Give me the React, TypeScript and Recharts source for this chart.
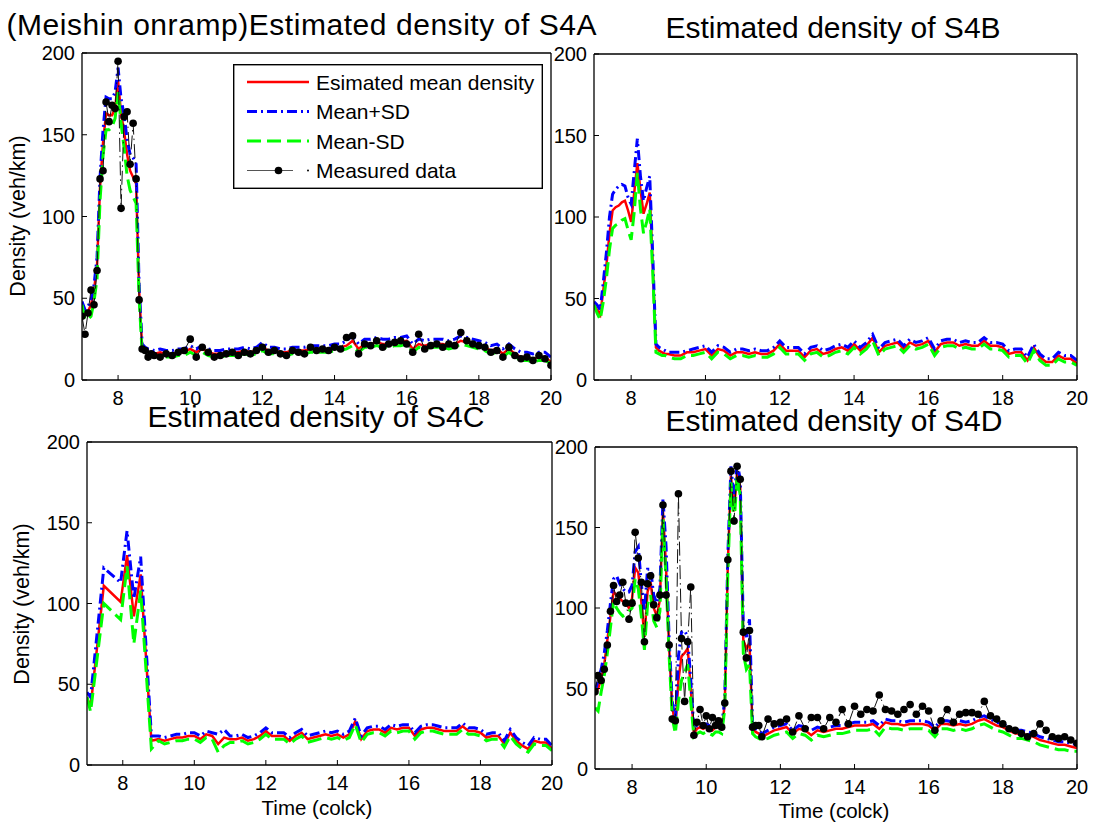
import { Legend, Line, LineChart, XAxis, YAxis } from 'recharts'

const FONT = '"Liberation Sans", Arial, sans-serif'

const xTicks = [8, 10, 12, 14, 16, 18, 20]
const yTicks = [0, 50, 100, 150, 200]

// sampling times in hours (5 min in the morning peak, 10 min afterwards)
const peakTimes = [7, 7.083, 7.167, 7.25, 7.333, 7.417, 7.5, 7.583, 7.667, 7.75, 7.833, 7.917, 8, 8.083, 8.167, 8.25, 8.333, 8.417, 8.5, 8.583, 8.667, 8.75, 8.833, 8.917, 9]
const tailTimes = [
  9.167, 9.333, 9.5, 9.667, 9.833, 10, 10.167, 10.333, 10.5, 10.667, 10.833, 11, 11.167, 11.333, 11.5, 11.667, 11.833,
  12, 12.167, 12.333, 12.5, 12.667, 12.833, 13, 13.167, 13.333, 13.5, 13.667, 13.833, 14, 14.167, 14.333, 14.5, 14.667, 14.833,
  15, 15.167, 15.333, 15.5, 15.667, 15.833, 16, 16.167, 16.333, 16.5, 16.667, 16.833, 17, 17.167, 17.333, 17.5, 17.667, 17.833,
  18, 18.167, 18.333, 18.5, 18.667, 18.833, 19, 19.167, 19.333, 19.5, 19.667, 19.833, 20,
]
const peakTimesC = [7, 7.1, 7.47, 7.94, 8.12, 8.31, 8.5, 8.8, 9]
const peakTimesD = [
  7, 7.083, 7.167, 7.25, 7.333, 7.417, 7.5, 7.583, 7.667, 7.75, 7.833, 7.917, 8, 8.083, 8.167, 8.25, 8.333, 8.417, 8.5, 8.583,
  8.667, 8.75, 8.833, 8.917, 9, 9.083, 9.167, 9.25, 9.333, 9.417, 9.5, 9.583, 9.667, 9.75, 9.833, 9.917, 10, 10.083, 10.167,
  10.25, 10.333, 10.417, 10.5, 10.583, 10.667, 10.75, 10.833, 10.917, 11, 11.083, 11.167, 11.25, 11.333, 11.417, 11.5,
]

// S4A
const meanA = [
  45, 40, 42, 46, 55, 70, 118, 145, 163, 162, 162, 166, 183, 163, 152, 138, 128, 124, 120, 55, 20, 18, 17, 17, 16,
  17, 16, 16, 17, 17, 19, 17, 19, 17, 16, 16, 17, 17, 17, 18, 17, 18, 20, 18, 18, 17, 17, 18, 18, 18, 19, 19, 19, 19, 20,
  20, 21, 24, 19, 22, 22, 23, 22, 22, 23, 23, 24, 19, 22, 21, 22, 22, 22, 21, 22, 24, 23, 22, 21, 20, 18, 19, 16, 19, 16,
  14, 14, 13, 14, 14, 11,
]
const upperA = [
  48, 43, 45, 49, 58, 75, 124, 153, 173, 172, 172, 176, 191, 172, 162, 147, 138, 136, 132, 58, 22, 20, 19, 19, 18,
  19, 18, 18, 19, 19, 21, 19, 21, 19, 18, 18, 19, 19, 19, 20, 19, 20, 23, 20, 20, 19, 19, 20, 20, 20, 21, 21, 21, 21, 22,
  22, 24, 27, 22, 25, 25, 26, 25, 25, 26, 26, 27, 22, 25, 24, 25, 25, 25, 24, 25, 27, 26, 25, 24, 23, 21, 22, 19, 22, 19,
  17, 17, 16, 17, 17, 14,
]
const lowerA = [
  46, 37, 37, 39, 48, 62, 110, 137, 153, 153, 155, 160, 176, 157, 142, 125, 116, 112, 108, 50, 17, 16, 15, 15, 14,
  15, 14, 14, 15, 15, 17, 15, 17, 15, 14, 14, 15, 15, 15, 16, 15, 16, 18, 16, 16, 15, 15, 16, 16, 16, 17, 17, 17, 17, 18,
  18, 19, 21, 17, 20, 20, 21, 20, 20, 21, 21, 22, 17, 20, 19, 20, 20, 20, 19, 20, 22, 21, 20, 19, 18, 16, 17, 14, 17, 14,
  12, 12, 11, 12, 12, 10,
]
const measuredA = [
  39, 28, 41, 55, 46, 67, 123, 128, 170, 158, 168, 166, 195, 105, 161, 164, 132, 157, 123, 49, 19, 18, 14, 16, 15,
  14, 16, 15, 17, 18, 25, 14, 20, 17, 14, 15, 16, 17, 15, 17, 16, 18, 20, 17, 18, 16, 15, 18, 17, 16, 20, 18, 19, 18, 20,
  19, 26, 27, 16, 22, 21, 24, 20, 22, 23, 24, 22, 17, 28, 19, 21, 22, 20, 22, 21, 29, 24, 22, 21, 20, 17, 18, 14, 20, 15,
  13, 14, 12, 15, 13, 9,
]

// S4B
const meanB = [
  46, 43, 40, 55, 70, 90, 104, 106, 107, 109, 110, 104, 97, 115, 133, 117, 102, 108, 115, 70, 20, 18, 17, 16, 16,
  15, 15, 17, 17, 18, 19, 15, 19, 18, 15, 17, 17, 16, 17, 16, 16, 18, 22, 18, 18, 18, 14, 18, 19, 16, 17, 19, 20, 18, 22,
  18, 21, 26, 17, 21, 22, 23, 19, 23, 21, 22, 24, 17, 22, 23, 23, 21, 22, 21, 21, 24, 21, 21, 20, 16, 17, 17, 12, 20, 14,
  11, 11, 15, 13, 13, 10,
]
const upperB = [
  48, 46, 43, 60, 78, 100, 114, 117, 119, 120, 119, 112, 108, 128, 148, 125, 110, 118, 125, 75, 22, 20, 19, 18, 17,
  17, 17, 18, 19, 20, 21, 17, 21, 20, 17, 19, 19, 18, 19, 18, 18, 20, 24, 20, 20, 20, 16, 20, 21, 18, 19, 21, 22, 20, 24,
  20, 23, 28, 19, 23, 24, 25, 21, 25, 23, 24, 26, 19, 24, 25, 25, 23, 24, 23, 23, 26, 23, 23, 22, 18, 19, 19, 14, 22, 16,
  13, 13, 17, 15, 15, 12,
]
const lowerB = [
  46, 41, 37, 48, 62, 80, 93, 95, 96, 98, 99, 92, 86, 103, 127, 105, 90, 97, 105, 65, 17, 16, 15, 15, 14,
  13, 13, 15, 15, 16, 17, 13, 17, 16, 13, 15, 15, 14, 15, 14, 14, 16, 20, 16, 16, 16, 12, 16, 17, 14, 15, 17, 18, 16, 20,
  16, 19, 24, 15, 19, 20, 21, 17, 21, 19, 20, 22, 15, 20, 21, 21, 19, 20, 19, 19, 22, 19, 19, 18, 14, 15, 15, 10, 18, 12,
  9, 9, 13, 11, 11, 9,
]

// S4C
const meanC = [
  42, 36, 111, 101, 130, 92, 118, 15, 16,
  15, 16, 17, 17, 18, 18, 16, 19, 18, 13, 17, 16, 16, 17, 15, 16, 18, 21, 18, 18, 18, 15, 18, 20, 16, 17, 18, 19, 18, 19,
  17, 19, 27, 16, 21, 22, 22, 20, 23, 22, 23, 23, 18, 22, 23, 23, 22, 21, 21, 21, 24, 21, 21, 20, 17, 18, 18, 13, 20, 15,
  12, 10, 15, 14, 14, 10,
]
const upperC = [
  45, 42, 122, 113, 145, 103, 129, 18, 18,
  17, 18, 19, 19, 20, 20, 18, 21, 20, 19, 22, 18, 18, 19, 17, 18, 20, 23, 20, 20, 20, 17, 20, 22, 18, 19, 20, 21, 20, 21,
  19, 21, 29, 18, 23, 24, 24, 22, 25, 24, 25, 25, 20, 24, 25, 25, 24, 23, 23, 23, 26, 23, 23, 22, 19, 20, 20, 15, 22, 17,
  14, 12, 17, 16, 16, 12,
]
const lowerC = [
  42, 33, 100, 90, 123, 75, 108, 10, 15,
  13, 14, 15, 15, 16, 16, 14, 17, 16, 8, 12, 14, 14, 15, 13, 14, 16, 19, 16, 16, 16, 13, 16, 18, 14, 15, 16, 17, 16, 17,
  15, 17, 25, 14, 19, 20, 20, 18, 21, 20, 21, 21, 16, 20, 21, 21, 20, 19, 19, 19, 22, 19, 19, 18, 15, 16, 16, 11, 18, 13,
  10, 8, 13, 12, 12, 9,
]

// S4D
const meanD = [
  46, 50, 56, 65, 80, 95, 110, 108, 106, 104, 103, 100, 106, 125, 122, 104, 82, 110, 116, 100, 95, 105, 160, 125, 75, 40, 25,
  55, 70, 72, 75, 50, 22, 25, 26, 25, 26, 25, 24, 26, 26, 25, 40, 128, 182, 160, 185, 175, 80, 75, 78, 25, 23, 22, 20,
  22, 24, 25, 26, 22, 25, 24, 21, 24, 23, 24, 25, 25, 26, 27, 27, 27, 28, 25, 29, 28, 28, 27, 28, 28, 28, 27, 24, 28, 28,
  27, 28, 27, 28, 30, 31, 29, 27, 26, 24, 22, 22, 21, 20, 18, 17, 16, 15, 15, 14, 13,
]
const upperD = [
  48, 55, 62, 72, 86, 103, 118, 120, 115, 112, 110, 110, 114, 135, 138, 115, 98, 124, 124, 108, 103, 112, 168, 138, 80, 42, 30,
  70, 85, 86, 82, 55, 25, 27, 28, 27, 28, 27, 26, 28, 28, 27, 43, 133, 188, 168, 190, 180, 88, 82, 93, 28, 25, 24, 22,
  24, 26, 27, 28, 24, 27, 26, 24, 26, 25, 26, 27, 27, 28, 29, 29, 29, 30, 27, 31, 30, 30, 29, 30, 30, 30, 29, 26, 30, 30,
  29, 30, 29, 30, 32, 33, 31, 29, 28, 26, 24, 24, 23, 22, 20, 19, 18, 17, 17, 16, 15,
]
const lowerD = [
  38, 36, 48, 58, 72, 88, 104, 100, 97, 95, 96, 98, 100, 118, 112, 95, 74, 102, 108, 92, 88, 98, 155, 118, 70, 32, 22,
  42, 55, 60, 65, 42, 20, 22, 23, 22, 23, 22, 21, 23, 23, 22, 37, 122, 178, 152, 182, 170, 72, 62, 65, 22, 20, 19, 18,
  19, 21, 22, 23, 19, 22, 21, 18, 21, 20, 21, 22, 22, 23, 24, 24, 24, 25, 21, 26, 25, 25, 24, 25, 25, 25, 24, 20, 25, 25,
  24, 25, 24, 25, 27, 28, 26, 24, 23, 21, 19, 19, 18, 17, 15, 14, 13, 12, 12, 11, 11,
]
const measuredD = [
  48, 58, 55, 62, 77, 98, 114, 104, 108, 116, 103, 93, 103, 147, 131, 116, 79, 115, 120, 102, 94, 108, 164, 108, 77, 31, 30,
  171, 81, 42, 79, 113, 21, 29, 37, 27, 33, 25, 32, 27, 30, 26, 41, 130, 185, 154, 188, 180, 85, 69, 86, 26, 27, 27, 20,
  31, 28, 29, 31, 23, 33, 25, 32, 32, 25, 32, 29, 37, 28, 39, 34, 37, 36, 46, 37, 36, 34, 37, 40, 34, 39, 36, 24, 30, 37,
  29, 34, 35, 35, 34, 42, 33, 31, 28, 25, 24, 22, 20, 22, 28, 24, 20, 19, 20, 18, 16,
]

type Row = { t: number; mean: number; upper: number; lower: number; measured?: number }

const toRows = (times: number[], mean: number[], upper: number[], lower: number[], measured?: number[]): Row[] =>
  times.map((t, i) => ({ t, mean: mean[i], upper: upper[i], lower: lower[i], measured: measured ? measured[i] : undefined }))

const rowsA = toRows([...peakTimes, ...tailTimes], meanA, upperA, lowerA, measuredA)
const rowsB = toRows([...peakTimes, ...tailTimes], meanB, upperB, lowerB)
const rowsC = toRows([...peakTimesC, ...tailTimes], meanC, upperC, lowerC)
const rowsD = toRows([...peakTimesD, ...tailTimes.slice(15)], meanD, upperD, lowerD, measuredD)

const legendItems = [
  { label: 'Esimated mean density', color: '#ff0000', dash: undefined, width: 2.5 },
  { label: 'Mean+SD', color: '#0000ff', dash: '10 4 2 4', width: 3 },
  { label: 'Mean-SD', color: '#00ff00', dash: '14 6', width: 3 },
  { label: 'Measured data', color: '#555', dash: undefined, width: 1 },
]

const LegendBox = () => (
  <svg width={310} height={125} style={{ display: 'block', background: '#fff' }}>
    <rect x={0.7} y={0.7} width={308.6} height={123.6} fill="#fff" stroke="#000" strokeWidth={1.4} />
    {legendItems.map((it, i) => {
      const y = 18 + i * 29.5
      return (
        <g key={it.label}>
          {i === 3 ? (
            <>
              <line x1={14} x2={60} y1={y} y2={y} stroke={it.color} strokeWidth={1} />
              <circle cx={45.5} cy={y} r={3.8} fill="#000" />
              <circle cx={75} cy={y} r={1} fill="#000" />
            </>
          ) : (
            <line x1={14} x2={76} y1={y} y2={y} stroke={it.color} strokeWidth={it.width} strokeDasharray={it.dash} />
          )}
          <text x={83} y={y + 7.5} fontSize={21} fontFamily={FONT} fill="#000">
            {it.label}
          </text>
        </g>
      )
    })}
  </svg>
)

type PanelProps = {
  data: Row[]
  left: number
  top: number
  height: number
  yWidth: number
  margin: { top: number; right: number; bottom: number; left: number }
  measured?: boolean
  legend?: boolean
}

const tickStyle = { fill: '#000', fontSize: 20, fontFamily: FONT }
const axisLine = { stroke: '#000', strokeWidth: 1.3 }

// the top and right axes only draw the box edges and the inward ticks (MATLAB style)
const DensityPanel = ({ data, left, top, height, yWidth, margin, measured, legend }: PanelProps) => (
  <div style={{ position: 'absolute', left, top }}>
    <LineChart width={570} height={height} data={data} margin={margin}>
      <XAxis dataKey="t" type="number" domain={[7, 20]} ticks={xTicks} interval={0} allowDataOverflow height={30}
        tickSize={-5} tickMargin={16} tick={tickStyle} axisLine={axisLine} tickLine={{ stroke: '#000' }} />
      <XAxis xAxisId="top" orientation="top" dataKey="t" type="number" domain={[7, 20]} ticks={xTicks} interval={0}
        allowDataOverflow height={1} tickSize={-5} tick={false} axisLine={axisLine} tickLine={{ stroke: '#000' }} />
      <YAxis type="number" domain={[0, 200]} ticks={yTicks} interval={0} allowDataOverflow width={yWidth}
        tickSize={-5} tickMargin={12} tick={tickStyle} axisLine={axisLine} tickLine={{ stroke: '#000' }} />
      <YAxis yAxisId="right" orientation="right" type="number" domain={[0, 200]} ticks={yTicks} interval={0}
        allowDataOverflow width={1} tickSize={-5} tick={false} axisLine={axisLine} tickLine={{ stroke: '#000' }} />
      <Line type="linear" dataKey="mean" stroke="#ff0000" strokeWidth={2.5} dot={false} activeDot={false} isAnimationActive={false} />
      <Line type="linear" dataKey="upper" stroke="#0000ff" strokeWidth={3} strokeDasharray="10 4 2 4" dot={false} activeDot={false} isAnimationActive={false} />
      <Line type="linear" dataKey="lower" stroke="#00ff00" strokeWidth={3} strokeDasharray="14 6" dot={false} activeDot={false} isAnimationActive={false} />
      {measured && (
        <Line type="linear" dataKey="measured" stroke="#111" strokeWidth={1} strokeDasharray="14 4 1.5 4"
          dot={{ r: 3.8, fill: '#000', stroke: '#000', strokeWidth: 0 }} activeDot={false} isAnimationActive={false} />
      )}
      {legend && (
        <Legend layout="vertical" align="center" verticalAlign="middle" content={() => <LegendBox />}
          wrapperStyle={{ left: 233, top: 24, width: 310, height: 125 }} />
      )}
    </LineChart>
  </div>
)

export default function App() {
  return (
    <div style={{ position: 'absolute', left: 0, top: 0, width: 1096, height: 826, background: '#fff', overflow: 'hidden' }}>
      <DensityPanel data={rowsA} left={0} top={40} height={380} yWidth={82} margin={{ top: 12, right: 18, bottom: 10, left: 0 }} measured legend />
      <DensityPanel data={rowsB} left={520} top={40} height={380} yWidth={74} margin={{ top: 13, right: 12, bottom: 10, left: 0 }} />
      <DensityPanel data={rowsC} left={0} top={420} height={400} yWidth={87} margin={{ top: 21, right: 17, bottom: 25, left: 0 }} />
      <DensityPanel data={rowsD} left={520} top={420} height={400} yWidth={75} margin={{ top: 26, right: 12, bottom: 21, left: 0 }} measured />
      <svg width={1096} height={826} style={{ position: 'absolute', left: 0, top: 0, pointerEvents: 'none' }} fontFamily={FONT} fill="#000">
        <text x={301.5} y={35} fontSize={30} textAnchor="middle" textLength={590} lengthAdjust="spacing">(Meishin onramp)Estimated density of S4A</text>
        <text x={833} y={38} fontSize={30} textAnchor="middle">Estimated density of S4B</text>
        <text x={316} y={427} fontSize={30} textAnchor="middle">Estimated density of S4C</text>
        <text x={834} y={431} fontSize={30} textAnchor="middle">Estimated density of S4D</text>
        <text transform="translate(25,216) rotate(-90)" fontSize={21.5} textAnchor="middle">Density (veh/km)</text>
        <text transform="translate(29,604) rotate(-90)" fontSize={21.5} textAnchor="middle">Density (veh/km)</text>
        <text x={317} y={815} fontSize={20.5} textAnchor="middle">Time (colck)</text>
        <text x={834} y={818} fontSize={20.5} textAnchor="middle">Time (colck)</text>
      </svg>
    </div>
  )
}
